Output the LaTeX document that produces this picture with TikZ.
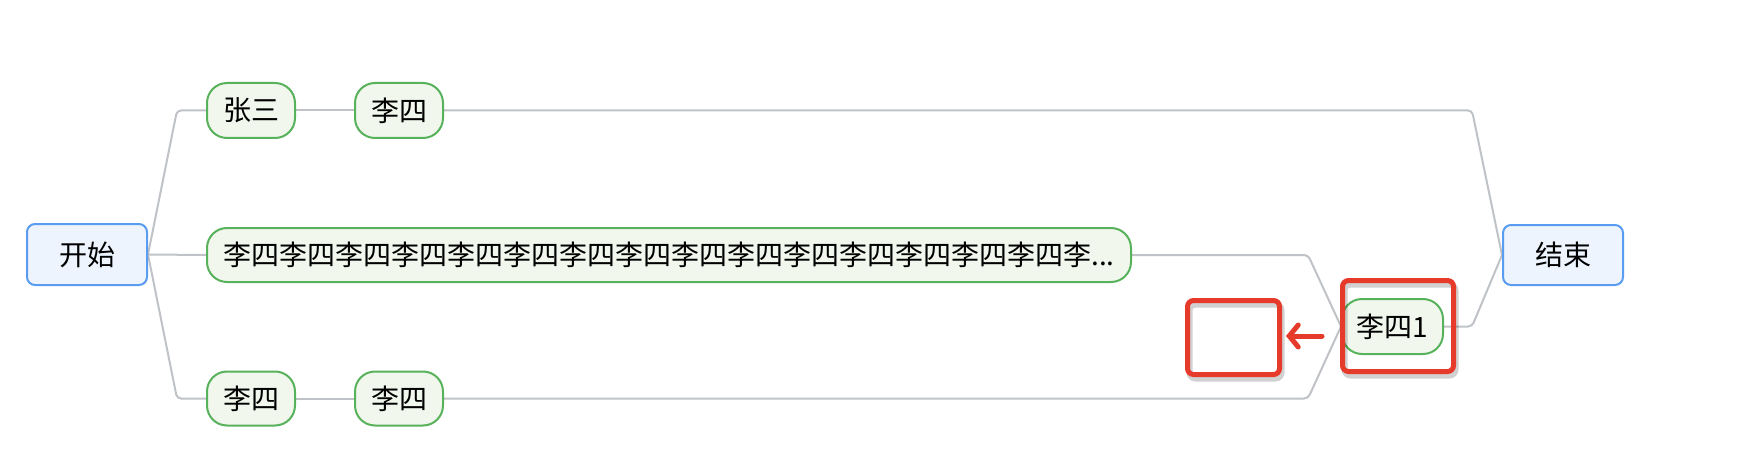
\documentclass[tikz,border=0pt]{standalone}
\usepackage{fontspec}
\setmainfont{Noto Sans CJK SC}
\usetikzlibrary{arrows.meta}
\pgfdeclarelayer{background}
\pgfsetlayers{background,main}
\definecolor{gline}{HTML}{BFC2C7}
\definecolor{gborder}{HTML}{58B25C}
\definecolor{gfill}{HTML}{F1F7EC}
\definecolor{bborder}{HTML}{5A9CF0}
\definecolor{bfill}{HTML}{EDF4FE}
\definecolor{redmark}{HTML}{E63A2B}
\tikzset{
  base/.style={inner sep=0pt, font=\fontsize{28}{34}\selectfont, text=black, line width=2pt},
  topic/.style={base, draw=gborder, fill=gfill, rounded corners=20pt, minimum width=88pt, minimum height=55pt},
  endpoint/.style={base, draw=bborder, fill=bfill, rounded corners=8pt, minimum width=120pt, minimum height=61pt},
  link/.style={draw=gline, line width=2pt, rounded corners=4pt},
  markbox/.style={draw=redmark, line width=5pt, rounded corners=6pt, inner sep=0pt},
  markshadow/.style={draw=black, opacity=0.18, line width=6pt, rounded corners=6pt},
}
\begin{document}
\begin{tikzpicture}[x=1pt, y=-1pt]
\useasboundingbox (0,0) rectangle (1738,468);

\node[endpoint] (start) at (87,254.5) {开始};
\node[topic] (zs) at (251,110.5) {张三};
\node[topic] (ls1) at (399,110.5) {李四};
\node[topic, minimum width=924pt, minimum height=54pt] (long) at (669,255) {李四李四李四李四李四李四李四李四李四李四李四李四李四李四李四李...};
\node[topic, minimum height=54pt] (lb1) at (251,398.5) {李四};
\node[topic, minimum height=54pt] (lb2) at (399,398.5) {李四};
\node[topic, minimum width=101pt] (l1) at (1392.5,326.5) {李四1};
\node[endpoint, minimum height=60pt] (end) at (1563,255) {结束};

\coordinate (c1) at (177,110.5);
\coordinate (c2) at (177,398.5);
\coordinate (c3) at (1472,110.5);
\coordinate (c4) at (1308,255);
\coordinate (c5) at (1308,398.5);
\coordinate (c6) at (1472,326.5);

\begin{pgfonlayer}{background}
\path[link] (start.east) -- (c1) -- (zs.west);
\path[link] (start.east) -- (long.west);
\path[link] (start.east) -- (c2) -- (lb1.west);
\path[link] (zs.east) -- (ls1.west);
\path[link] (lb1.east) -- (lb2.west);
\path[link] (ls1.east) -- (c3) -- (end.west);
\path[link] (long.east) -- (c4) -- (l1.west);
\path[link] (lb2.east) -- (c5) -- (l1.west);
\path[link] (l1.east) -- (c6) -- (end.west);
\end{pgfonlayer}

% red annotation marks
\draw[markshadow] (1344.5,284.5) rectangle (1455.5,375.5);
\draw[markshadow] (1189.5,304.5) rectangle (1281.5,378.5);
\node[markbox, minimum width=111pt, minimum height=91pt] (markA) at (1398,326) {};
\node[markbox, minimum width=92pt, minimum height=74pt] (markB) at (1233.5,337.5) {};
\coordinate (arrowstart) at (1322,336);
\draw[draw=redmark, line width=5pt, line cap=round, -{Straight Barb[length=9pt, width=22pt, line cap=round]}] (arrowstart) -- ([xshift=4pt]markB.east |- arrowstart);
\end{tikzpicture}
\end{document}
